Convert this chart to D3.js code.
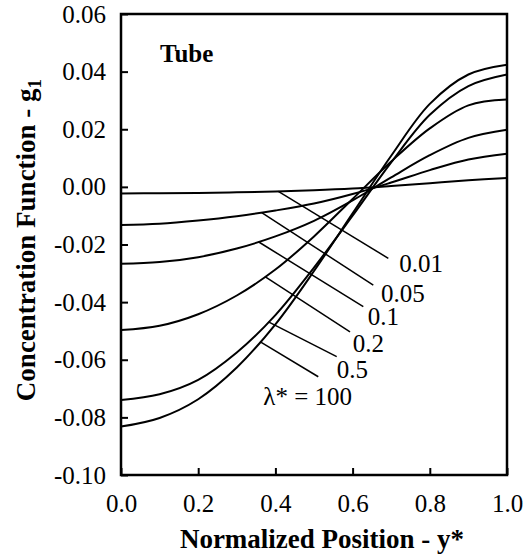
<!DOCTYPE html>
<html>
<head>
<meta charset="utf-8">
<script src="https://cdn.jsdelivr.net/npm/d3@7"></script>
<style>
  body { margin: 0; background: #fff; }
</style>
</head>
<body>
<div id="chart"></div>
<script>
// positions across the tube, y*
const yStar = [0, 0.1, 0.2, 0.3, 0.4, 0.5, 0.6, 0.7, 0.8, 0.9, 1.0];

// g1 for each lambda*
const g_001 = [-0.0023, -0.0022, -0.0021, -0.0019, -0.0016, -0.0012, -0.0006, 0.0003, 0.0013, 0.0023, 0.0031];
const g_005 = [-0.0132, -0.0128, -0.0117, -0.0102, -0.0082, -0.0058, -0.0025, 0.0015, 0.0058, 0.0095, 0.0115];
const g_01  = [-0.0267, -0.0261, -0.0244, -0.0214, -0.0172, -0.0118, -0.0047, 0.0033, 0.0110, 0.0170, 0.0198];
const g_02  = [-0.0497, -0.0482, -0.0442, -0.0377, -0.0287, -0.0172, -0.0042, 0.0088, 0.0203, 0.0283, 0.0303];
const g_05  = [-0.0740, -0.0720, -0.0670, -0.0575, -0.0445, -0.0280, -0.0100, 0.0085, 0.0250, 0.0350, 0.0390];
const g_100 = [-0.0832, -0.0802, -0.0737, -0.0627, -0.0477, -0.0292, -0.0092, 0.0108, 0.0288, 0.0390, 0.0424];

const seriesNames = ["0.01", "0.05", "0.1", "0.2", "0.5", "\u03bb* = 100"];
const seriesValues = [g_001, g_005, g_01, g_02, g_05, g_100];

const xTicks = [0, 0.2, 0.4, 0.6, 0.8, 1.0];
const yTicks = [-0.10, -0.08, -0.06, -0.04, -0.02, 0.00, 0.02, 0.04, 0.06];

// leader lines: start on the curve at y* = from, end at (toX, toY) in data units
const leaderFrom = [0.4075, 0.3645, 0.356, 0.373, 0.382, 0.360];
const leaderToX  = [0.6925, 0.6536, 0.6277, 0.5933, 0.5588, 0.5111];
const leaderToY  = [-0.0248, -0.0341, -0.0416, -0.0503, -0.0589, -0.0659];
// label offset from the leader end (px)
const labelDx = [11, 7.7, 4.4, 2.7, 0, -55];
const labelDy = [13.4, 16.7, 18.3, 20, 21.6, 28.3];

const serif = '"Liberation Serif", "Times New Roman", Times, serif';

const width = 527;
const height = 554;
const margin = { top: 14, right: 20, bottom: 79, left: 121 };

const svg = d3.select('#chart')
  .append('svg')
  .attr('width', width)
  .attr('height', height)
  .attr('font-family', serif);

const x = d3.scaleLinear()
  .domain([0, 1])
  .range([margin.left, width - margin.right]);

const y = d3.scaleLinear()
  .domain([-0.10, 0.06])
  .range([height - margin.bottom, margin.top]);

const line = d3.line()
  .x((d, i) => x(yStar[i]))
  .y(d => y(d))
  .curve(d3.curveCatmullRom);

svg.append('g')
  .attr('fill', 'none')
  .attr('stroke', '#000')
  .attr('stroke-width', 2)
  .selectAll('path')
  .data(seriesValues)
  .join('path')
  .attr('d', line);

// value on a curve by linear interpolation between read points
function valueAt(vals, t) {
  const i = Math.min(Math.floor(t * 10), 9);
  const f = (t - yStar[i]) / (yStar[i + 1] - yStar[i]);
  return vals[i] + f * (vals[i + 1] - vals[i]);
}

const ann = svg.append('g');
seriesValues.forEach((vals, k) => {
  const x1 = x(leaderFrom[k]), y1 = y(valueAt(vals, leaderFrom[k]));
  const x2 = x(leaderToX[k]), y2 = y(leaderToY[k]);
  ann.append('line')
    .attr('x1', x1).attr('y1', y1)
    .attr('x2', x2).attr('y2', y2)
    .attr('stroke', '#000')
    .attr('stroke-width', 1.5);
  ann.append('text')
    .attr('x', x2 + labelDx[k])
    .attr('y', y2 + labelDy[k])
    .attr('font-family', serif)
    .attr('font-size', '25px')
    .text(seriesNames[k]);
});

// axes with inward ticks
function yAxis(g) {
  g.attr('transform', `translate(${margin.left},0)`)
    .call(d3.axisLeft(y).tickValues(yTicks)
      .tickSizeInner(-7).tickSizeOuter(0).tickPadding(15))
    .attr('font-size', '25px')
    .attr('font-family', serif);
  g.select('.domain').remove();
  g.selectAll('line').attr('stroke-width', 2);
  g.selectAll('text').text(d => d3.format('.2f')(d).replace('\u2212', '-'));
}

function xAxis(g) {
  g.attr('transform', `translate(0,${height - margin.bottom})`)
    .call(d3.axisBottom(x).tickValues(xTicks).tickFormat(d3.format('.1f'))
      .tickSizeInner(-7).tickSizeOuter(0).tickPadding(19))
    .attr('font-size', '25px')
    .attr('font-family', serif);
  g.select('.domain').remove();
  g.selectAll('line').attr('stroke-width', 2);
}

svg.append('g').call(xAxis);
svg.append('g').call(yAxis);

// frame
svg.append('rect')
  .attr('x', margin.left)
  .attr('y', margin.top)
  .attr('width', width - margin.left - margin.right)
  .attr('height', height - margin.top - margin.bottom)
  .attr('fill', 'none')
  .attr('stroke', '#000')
  .attr('stroke-width', 2.5);

svg.append('text')
  .attr('x', 160)
  .attr('y', 61.7)
  .attr('font-size', '25px')
  .attr('font-weight', 'bold')
  .text('Tube');

svg.append('text')
  .attr('x', 322)
  .attr('y', 548)
  .attr('text-anchor', 'middle')
  .attr('font-size', '27px')
  .attr('font-weight', 'bold')
  .text('Normalized Position - y*');

const yt = svg.append('text')
  .attr('transform', `translate(35,240) rotate(-90)`)
  .attr('text-anchor', 'middle')
  .attr('font-size', '27px')
  .attr('font-weight', 'bold');
yt.append('tspan').text('Concentration Function - g');
yt.append('tspan').attr('font-size', '19px').attr('dy', 6).text('1');
</script>
</body>
</html>
